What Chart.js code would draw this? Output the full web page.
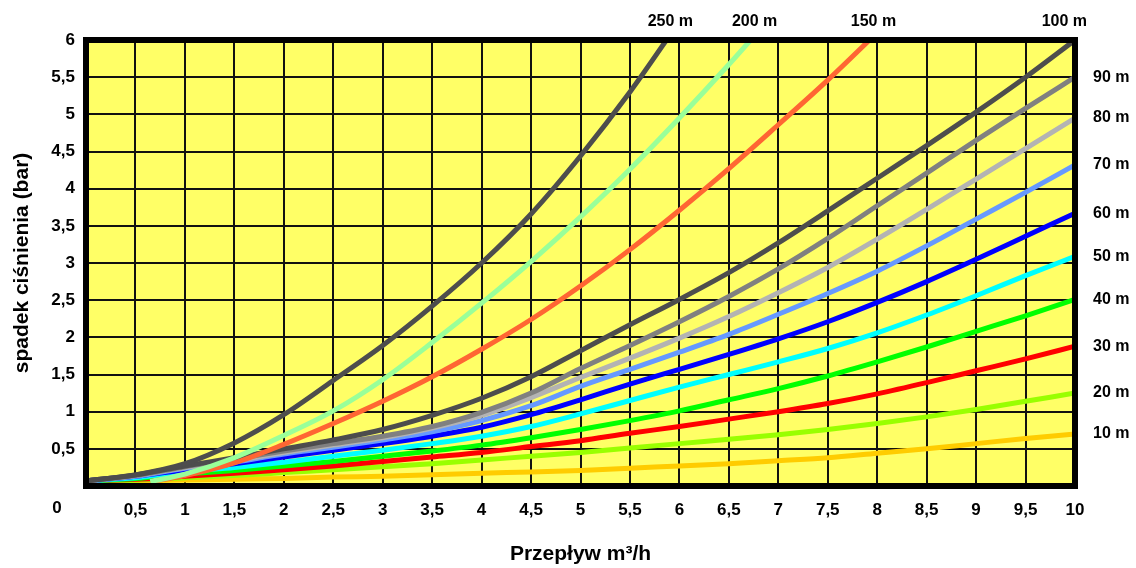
<!DOCTYPE html>
<html>
<head>
<meta charset="utf-8">
<script src="https://cdn.jsdelivr.net/npm/chart.js@4.4.0/dist/chart.umd.min.js"></script>
<style>
  body { margin: 0; background: #fff; }
  #wrap { width: 1136px; height: 568px; }
</style>
</head>
<body>
<div id="wrap"><canvas id="canvas"></canvas></div>
<script>
// przeplyw m3/h (wspolny dla 10-100 m)
const flow = [0, 0.5, 1, 1.5, 2, 2.5, 3, 3.5, 4, 4.5, 5, 5.5, 6, 6.5, 7, 7.5, 8, 8.5, 9, 9.5, 10]

// dlugie odcinki koncza sie u gory wykresu
const flow250 = [0, 0.5, 1, 1.5, 2, 2.5, 3, 3.5, 4, 4.5, 5, 5.5, 6]
const drop250 = [0.07, 0.15, 0.3, 0.58, 0.96, 1.42, 1.89, 2.42, 3.0, 3.66, 4.44, 5.3, 6.25]
const flow200 = [0.65, 1, 1.5, 2, 2.5, 3, 3.5, 4, 4.5, 5, 5.5, 6, 6.5, 7]
const drop200 = [0.06, 0.16, 0.38, 0.68, 1.01, 1.43, 1.93, 2.46, 3.02, 3.62, 4.26, 4.95, 5.67, 6.42]
const flow150 = [0.65, 1, 1.5, 2, 2.5, 3, 3.5, 4, 4.5, 5, 5.5, 6, 6.5, 7, 7.5, 8]
const drop150 = [0.06, 0.14, 0.31, 0.56, 0.84, 1.14, 1.47, 1.84, 2.24, 2.69, 3.18, 3.71, 4.27, 4.86, 5.46, 6.1]

const drop100 = [0.07, 0.15, 0.27, 0.38, 0.5, 0.62, 0.76, 0.95, 1.18, 1.47, 1.82, 2.17, 2.51, 2.87, 3.27, 3.7, 4.14, 4.58, 5.03, 5.5, 6.0]
const drop90 = [0.07, 0.14, 0.26, 0.36, 0.47, 0.57, 0.67, 0.8, 0.99, 1.25, 1.58, 1.89, 2.21, 2.55, 2.92, 3.33, 3.77, 4.21, 4.65, 5.08, 5.5]
const drop80 = [0.07, 0.14, 0.25, 0.34, 0.45, 0.55, 0.65, 0.78, 0.95, 1.19, 1.46, 1.72, 1.99, 2.28, 2.6, 2.94, 3.32, 3.72, 4.13, 4.54, 4.95]
const drop70 = [0.07, 0.13, 0.24, 0.32, 0.43, 0.52, 0.62, 0.73, 0.88, 1.08, 1.34, 1.57, 1.8, 2.04, 2.31, 2.59, 2.89, 3.23, 3.59, 3.95, 4.32]
const drop60 = [0.07, 0.13, 0.22, 0.3, 0.39, 0.48, 0.57, 0.67, 0.79, 0.96, 1.16, 1.37, 1.57, 1.77, 1.98, 2.21, 2.47, 2.75, 3.05, 3.36, 3.67]
const drop50 = [0.07, 0.11, 0.19, 0.25, 0.32, 0.4, 0.48, 0.57, 0.67, 0.8, 0.97, 1.15, 1.33, 1.5, 1.67, 1.85, 2.06, 2.3, 2.56, 2.83, 3.09]
const drop40 = [0.07, 0.1, 0.16, 0.21, 0.27, 0.33, 0.4, 0.47, 0.55, 0.65, 0.76, 0.88, 1.01, 1.16, 1.31, 1.48, 1.67, 1.87, 2.08, 2.29, 2.51]
const drop30 = [0.07, 0.09, 0.13, 0.17, 0.22, 0.27, 0.33, 0.39, 0.45, 0.53, 0.61, 0.71, 0.8, 0.9, 1.0, 1.11, 1.24, 1.39, 1.55, 1.71, 1.88]
const drop20 = [0.07, 0.08, 0.11, 0.14, 0.18, 0.22, 0.26, 0.3, 0.35, 0.4, 0.45, 0.51, 0.57, 0.63, 0.69, 0.76, 0.84, 0.93, 1.03, 1.14, 1.25]
const drop10 = [0.06, 0.07, 0.08, 0.09, 0.1, 0.12, 0.13, 0.15, 0.17, 0.19, 0.21, 0.24, 0.27, 0.3, 0.34, 0.38, 0.44, 0.5, 0.57, 0.64, 0.7]

const labels = ['250 m', '200 m', '150 m', '100 m', '90 m', '80 m', '70 m', '60 m', '50 m', '40 m', '30 m', '20 m', '10 m']
const colors = ['#4d4d4d', '#99ff99', '#ff6633', '#4d4d4d', '#808080', '#b3b3b3', '#6699ff', '#0000ff', '#00ffff', '#00ff00', '#ff0000', '#99ff00', '#ffcc00']
const xs = [flow250, flow200, flow150, flow, flow, flow, flow, flow, flow, flow, flow, flow, flow]
const ys = [drop250, drop200, drop150, drop100, drop90, drop80, drop70, drop60, drop50, drop40, drop30, drop20, drop10]

const yMax = 6
const FONT = '"Liberation Sans", Arial, sans-serif'

const datasets = labels.map(function (lab, i) {
  return {
    label: lab,
    data: xs[i].map(function (x, j) { return { x: x, y: ys[i][j] } }),
    borderColor: colors[i],
    backgroundColor: colors[i],
    borderWidth: 5,
    pointRadius: 0,
    cubicInterpolationMode: 'monotone',
    fill: false,
  }
})

const ramka = {
  id: 'ramka',
  beforeDraw(chart) {
    const a = chart.chartArea
    const ctx = chart.ctx
    ctx.save()
    ctx.fillStyle = '#ffff66'
    ctx.fillRect(a.left, a.top, a.right - a.left, a.bottom - a.top)
    ctx.restore()
  },
  afterDatasetsDraw(chart) {
    const a = chart.chartArea
    const ctx = chart.ctx
    const sx = chart.scales.x
    const sy = chart.scales.y
    ctx.save()
    ctx.strokeStyle = '#000'
    ctx.lineWidth = 6
    ctx.strokeRect(a.left, a.top, a.right - a.left, a.bottom - a.top)

    // opisy krzywych
    ctx.fillStyle = '#000'
    ctx.font = 'bold 16px ' + FONT
    ctx.textBaseline = 'middle'
    chart.data.datasets.forEach(function (ds) {
      const pts = ds.data
      const last = pts[pts.length - 1]
      if (last.y >= yMax) {
        let xc = last.x
        for (let i = 1; i < pts.length; i++) {
          if (pts[i].y >= yMax) {
            const p = pts[i - 1], q = pts[i]
            xc = p.x + (yMax - p.y) / (q.y - p.y) * (q.x - p.x)
            break
          }
        }
        const w = ctx.measureText(ds.label).width
        const cx = Math.min(sx.getPixelForValue(xc) + 4, a.right + 12 - w / 2)
        ctx.textAlign = 'center'
        ctx.fillText(ds.label, cx, a.top - 18)
      } else {
        ctx.textAlign = 'left'
        ctx.fillText(ds.label, a.right + 18, sy.getPixelForValue(last.y))
      }
    })

    // zero w rogu
    ctx.font = 'bold 17px ' + FONT
    ctx.textAlign = 'center'
    ctx.fillText('0', a.left - 29, a.bottom + 22)
    ctx.restore()
  }
}

const comma = function (v) { return v === 0 ? '' : String(v).replace('.', ',') }

const config = {
  type: 'line',
  data: { datasets: datasets },
  options: {
    responsive: true,
    maintainAspectRatio: false,
    animation: false,
    layout: { padding: { top: 40, right: 61, bottom: 0, left: 0 } },
    plugins: { legend: { display: false }, tooltip: { enabled: false } },
    scales: {
      x: {
        type: 'linear',
        min: 0,
        max: 10,
        border: { display: false },
        grid: { color: '#111', lineWidth: 2, drawTicks: false },
        ticks: {
          stepSize: 0.5, autoSkip: false, maxRotation: 0, padding: 14,
          color: '#000', font: { family: FONT, size: 17, weight: 'bold' },
          callback: comma,
        },
        title: {
          display: true, text: 'Przepływ m³/h', color: '#000',
          font: { family: FONT, size: 21, weight: 'bold' },
          padding: { top: 0, bottom: 1 },
        },
        afterFit(s) { s.height = 82 },
      },
      y: {
        min: 0,
        max: 6,
        border: { display: false },
        grid: { color: '#111', lineWidth: 2, drawTicks: false },
        ticks: {
          stepSize: 0.5, autoSkip: false, padding: 11,
          color: '#000', font: { family: FONT, size: 17, weight: 'bold' },
          callback: comma,
        },
        title: {
          display: true, text: 'spadek ciśnienia (bar)', color: '#000',
          font: { family: FONT, size: 21, weight: 'bold' },
          padding: { top: 10, bottom: 0 },
        },
        afterFit(s) { s.width = 86 },
      },
    },
  },
  plugins: [ramka],
}

const canvas = document.getElementById('canvas')
const chart = new Chart(canvas, config)
</script>
</body>
</html>
